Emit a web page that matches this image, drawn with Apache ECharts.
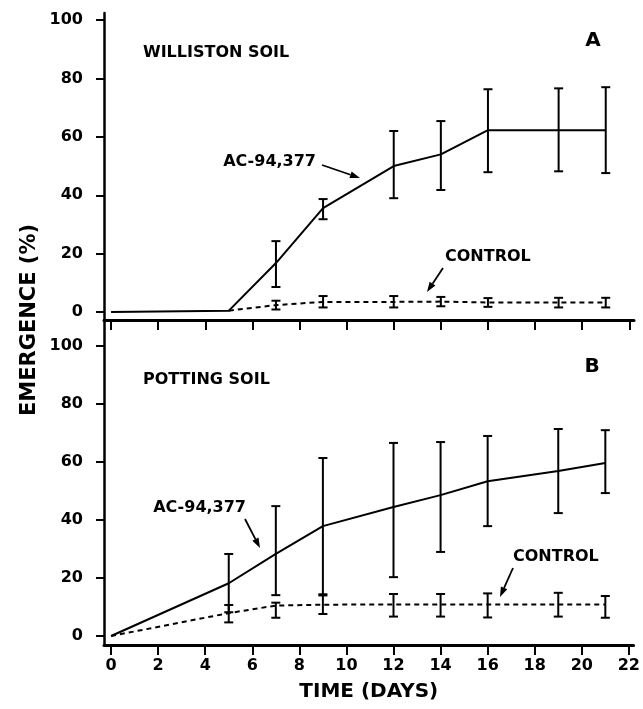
<!DOCTYPE html>
<html><head><meta charset="utf-8">
<script src="https://cdn.jsdelivr.net/npm/echarts@6/dist/echarts.min.js"></script>
<style>html,body{margin:0;padding:0;background:#fff}#c{width:643px;height:709px}</style>
</head><body><div id="c"></div>
<script>
// ---- data ----
const days = [0, 5, 7, 9, 12, 14, 16, 19, 21];
const xTicks = [0, 2, 4, 6, 8, 10, 12, 14, 16, 18, 20, 22];
const yTicks = [0, 20, 40, 60, 80, 100];

// Panel A: Williston soil
const williAC     = [0, 0.5, 16.8, 35.6, 50.0, 54.0, 62.3, 62.3, 62.3];
const williACLow  = [null, null, 8.6, 31.8, 39.0, 41.8, 47.9, 48.2, 47.6];
const williACHigh = [null, null, 24.3, 38.7, 62.0, 65.4, 76.3, 76.6, 77.0];
const williCtrlDays = [5, 7, 9, 12, 14, 16, 19, 21];
const williCtrl     = [0.5, 2.4, 3.5, 3.5, 3.6, 3.3, 3.3, 3.3];
const williCtrlLow  = [null, 0.9, 1.6, 1.6, 2.0, 1.8, 1.6, 1.6];
const williCtrlHigh = [null, 3.9, 5.5, 5.5, 5.2, 4.8, 4.9, 4.9];

// Panel B: Potting soil
const potAC      = [0, 18.2, 28.3, 37.9, 44.5, 48.6, 53.4, 56.9, 59.7];
const potACLow   = [null, 8.2, 14.1, 14.4, 20.3, 29.0, 37.9, 42.4, 49.3];
const potACHigh  = [null, 28.3, 44.8, 61.4, 66.6, 66.9, 69.0, 71.4, 71.0];
const potCtrl     = [0, 7.9, 10.5, 10.8, 10.9, 10.9, 10.9, 10.9, 10.9];
const potCtrlLow  = [null, 4.7, 6.3, 7.6, 6.7, 6.7, 6.4, 6.7, 6.3];
const potCtrlHigh = [null, 10.7, 11.5, 14.0, 14.5, 14.5, 14.7, 14.9, 13.8];

// ---- helpers ----
const FONT = '"DejaVu Sans", sans-serif';
function pts(xs, ys) { return xs.map((x, i) => [x, ys[i]]); }
function errs(xs, lo, hi) {
  const out = [];
  xs.forEach((x, i) => { if (lo[i] != null && hi[i] != null) out.push([x, lo[i], hi[i]]); });
  return out;
}
function errRender(params, api) {
  const x = api.value(0), lo = api.value(1), hi = api.value(2);
  const a = api.coord([x, hi]), b = api.coord([x, lo]);
  const w = 4.5;
  const st = { stroke: '#000', lineWidth: 2 };
  return { type: 'group', children: [
    { type: 'line', shape: { x1: a[0], y1: a[1], x2: b[0], y2: b[1] }, style: st },
    { type: 'line', shape: { x1: a[0] - w, y1: a[1], x2: a[0] + w, y2: a[1] }, style: st },
    { type: 'line', shape: { x1: b[0] - w, y1: b[1], x2: b[0] + w, y2: b[1] }, style: st }
  ]};
}
function errSeries(xi, data) {
  return { type: 'custom', xAxisIndex: xi, yAxisIndex: xi, renderItem: errRender,
    encode: { x: 0, y: [1, 2] }, data: data, z: 3, silent: true };
}
function lineSeries(xi, data, dashed) {
  return { type: 'line', xAxisIndex: xi, yAxisIndex: xi, data: data, showSymbol: false,
    symbol: 'none', silent: true, z: 2,
    lineStyle: { color: '#000', width: 2, type: dashed ? [5, 4] : 'solid' } };
}
function arrow(x1, y1, x2, y2) {
  const ang = Math.atan2(y2 - y1, x2 - x1), L = 10, W = 3.5;
  const bx = x2 - L * Math.cos(ang), by = y2 - L * Math.sin(ang);
  const px = -Math.sin(ang), py = Math.cos(ang);
  return [
    { type: 'line', shape: { x1: x1, y1: y1, x2: bx, y2: by }, style: { stroke: '#000', lineWidth: 1.8 } },
    { type: 'polygon', shape: { points: [[x2, y2], [bx + px * W, by + py * W], [bx - px * W, by - py * W]] }, style: { fill: '#000' } }
  ];
}
function txt(x, y, s, size, align, rot) {
  return { type: 'text', x: x, y: y, rotation: rot || 0,
    style: { text: s, fill: '#000', font: 'bold ' + size + 'px ' + FONT, align: align || 'left', verticalAlign: 'middle' } };
}

const axisLineStyle = { color: '#000', width: 3 };
function xAxisCfg(gi, showLabels) {
  return {
    type: 'value', gridIndex: gi, min: -0.3, max: 22.2,
    splitLine: { show: false },
    axisLine: { onZero: false, lineStyle: axisLineStyle },
    axisTick: { customValues: xTicks, length: 10, lineStyle: { color: '#000', width: 2 } },
    axisLabel: { show: showLabels, customValues: xTicks, color: '#000', fontWeight: 'bold', fontSize: 16, fontFamily: FONT, margin: 13 },
    name: showLabels ? 'TIME (DAYS)' : '', nameLocation: 'middle', nameGap: 37,
    nameTextStyle: { color: '#000', fontWeight: 'bold', fontSize: 20, fontFamily: FONT }
  };
}
function yAxisCfg(gi, mn, mx) {
  return {
    type: 'value', gridIndex: gi, min: mn, max: mx,
    splitLine: { show: false },
    axisLine: { onZero: false, lineStyle: { color: '#000', width: 2.5 } },
    axisTick: { customValues: yTicks, length: 8, lineStyle: { color: '#000', width: 2 } },
    axisLabel: { customValues: yTicks, color: '#000', fontWeight: 'bold', fontSize: 16, fontFamily: FONT, margin: 21 }
  };
}

const graphics = [].concat(
  txt(143, 53, 'WILLISTON SOIL', 16),
  txt(593, 41, 'A', 20, 'center'),
  txt(316, 162, 'AC-94,377', 16, 'right'),
  arrow(322, 165, 360, 178),
  txt(445, 257, 'CONTROL', 16),
  arrow(443, 268, 427, 292),
  txt(143, 380, 'POTTING SOIL', 16),
  txt(592, 367, 'B', 20, 'center'),
  txt(246, 508, 'AC-94,377', 16, 'right'),
  arrow(245, 519, 260, 548),
  txt(513, 557, 'CONTROL', 16),
  arrow(513, 568, 500, 597),
  txt(30, 320, 'EMERGENCE (%)', 21, 'center', Math.PI / 2)
);

const chart = echarts.init(document.getElementById('c'), null, { renderer: 'canvas' });
chart.setOption({
  animation: false,
  backgroundColor: '#fff',
  grid: [
    { left: 104, right: 9, top: 13, height: 307 },
    { left: 104, right: 9, top: 320, height: 325 }
  ],
  xAxis: [xAxisCfg(0, false), xAxisCfg(1, true)],
  yAxis: [yAxisCfg(0, -2.7, 102.4), yAxisCfg(1, -3.1, 109)],
  series: [
    lineSeries(0, pts(days, williAC), false),
    errSeries(0, errs(days, williACLow, williACHigh)),
    lineSeries(0, pts(williCtrlDays, williCtrl), true),
    errSeries(0, errs(williCtrlDays, williCtrlLow, williCtrlHigh)),
    lineSeries(1, pts(days, potAC), false),
    errSeries(1, errs(days, potACLow, potACHigh)),
    lineSeries(1, pts(days, potCtrl), true),
    errSeries(1, errs(days, potCtrlLow, potCtrlHigh))
  ],
  graphic: graphics
});
</script>
</body></html>
